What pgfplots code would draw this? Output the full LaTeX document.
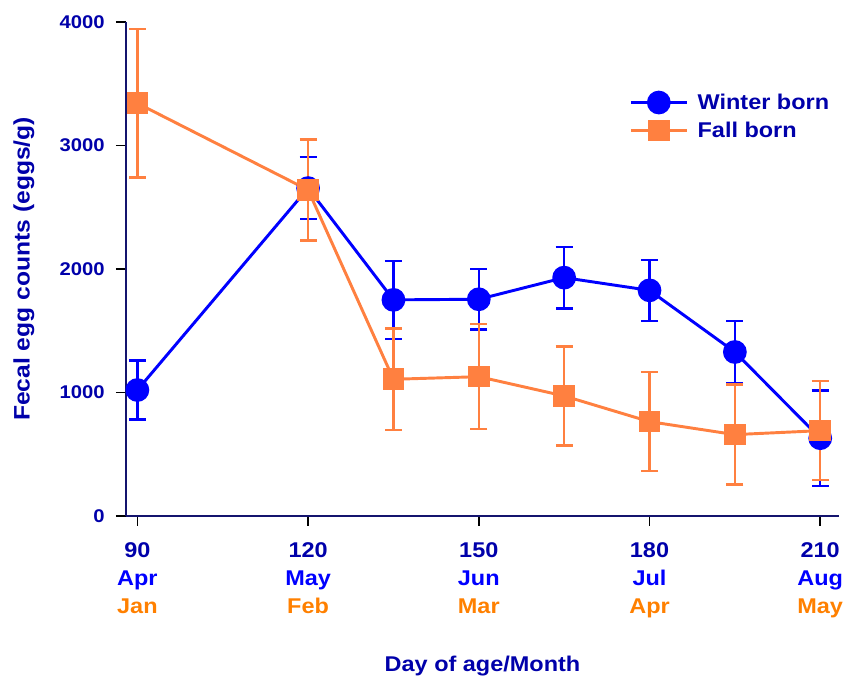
\documentclass[border=0pt]{standalone}
\usepackage{fontspec}
\setmainfont{Liberation Sans}[FakeStretch=1.1]
\usepackage{pgfplots}
\pgfplotsset{compat=1.18}
\definecolor{wblue}{RGB}{0,0,255}
\definecolor{forange}{RGB}{255,128,64}
\definecolor{lblue}{RGB}{0,0,170}
\definecolor{morange}{RGB}{255,128,0}
\definecolor{axnavy}{RGB}{20,20,110}

% day of age, mean count, error
\pgfplotstableread{
x y ey
90 1020 240
120 2655 250
135 1750 315
150 1755 245
165 1930 250
180 1827 247
195 1328 250
210 630 385
}\winter
\pgfplotstableread{
x y ey
90 3342 600
120 2640 410
135 1107 410
150 1128 425
165 972 400
180 764 400
195 659 405
210 691 400
}\fall

\begin{document}
\begin{tikzpicture}
\useasboundingbox (0,0) rectangle (637.5pt,507.75pt);
\begin{axis}[
  at={(94.5pt,120.75pt)}, anchor=south west,
  scale only axis, width=534.75pt, height=370.5pt,
  xmin=88, xmax=213.3, ymin=0, ymax=4000,
  axis x line*=bottom, axis y line*=left,
  axis line style={axnavy, line width=1.5pt, -},
  tick align=outside, major tick length=7.5pt,
  tick style={black, line width=1.2pt},
  xtick={90,120,150,180,210},
  ytick={0,1000,2000,3000,4000},
  /pgf/number format/assume math mode=true,
  /pgf/number format/set thousands separator={},
  scaled y ticks=false,
  yticklabel style={font=\fontsize{13.8}{15}\selectfont\bfseries, text=lblue, xshift=-5pt},
  xticklabel style={align=center, font=\fontsize{16}{21}\selectfont\bfseries, yshift=-9pt},
  xticklabels={
    {\textcolor{lblue}{90}\\\textcolor{wblue}{Apr}\\\textcolor{morange}{Jan}},
    {\textcolor{lblue}{120}\\\textcolor{wblue}{May}\\\textcolor{morange}{Feb}},
    {\textcolor{lblue}{150}\\\textcolor{wblue}{Jun}\\\textcolor{morange}{Mar}},
    {\textcolor{lblue}{180}\\\textcolor{wblue}{Jul}\\\textcolor{morange}{Apr}},
    {\textcolor{lblue}{210}\\\textcolor{wblue}{Aug}\\\textcolor{morange}{May}}},
  xlabel={Day of age/Month},
  ylabel={Fecal egg counts (eggs/g)},
  label style={font=\fontsize{16}{18}\selectfont\bfseries, text=lblue},
  xlabel style={yshift=-22pt},
  ylabel style={yshift=12pt, font=\fontsize{16.8}{18}\selectfont\bfseries},
  legend style={draw=none, fill=none, at={(0.70,0.866)}, anchor=north west,
    font=\fontsize{16}{18}\selectfont\bfseries, text=lblue, row sep=4pt,
    nodes={inner xsep=7pt}},
  legend cell align=left,
  legend image code/.code={
    \draw[mark repeat=2, mark phase=2] plot coordinates {(0pt,0pt) (21pt,0pt) (42pt,0pt)};},
]
\addplot[wblue, line width=2.2pt, mark=*, mark size=7.8pt, mark options={solid, fill=wblue},
  error bars/.cd, y dir=both, y explicit,
  error bar style={line width=1.8pt, wblue},
  error mark options={rotate=90, mark size=6.4pt, line width=1.8pt, wblue}]
  table[x=x, y=y, y error=ey] {\winter};
\addlegendentry{Winter born}
\addplot[forange, line width=2.2pt, mark=square*, mark size=7pt, mark options={solid, fill=forange},
  error bars/.cd, y dir=both, y explicit,
  error bar style={line width=1.8pt, forange},
  error mark options={rotate=90, mark size=6.4pt, line width=1.8pt, forange}]
  table[x=x, y=y, y error=ey] {\fall};
\addlegendentry{Fall born}
\end{axis}
\end{tikzpicture}
\end{document}
